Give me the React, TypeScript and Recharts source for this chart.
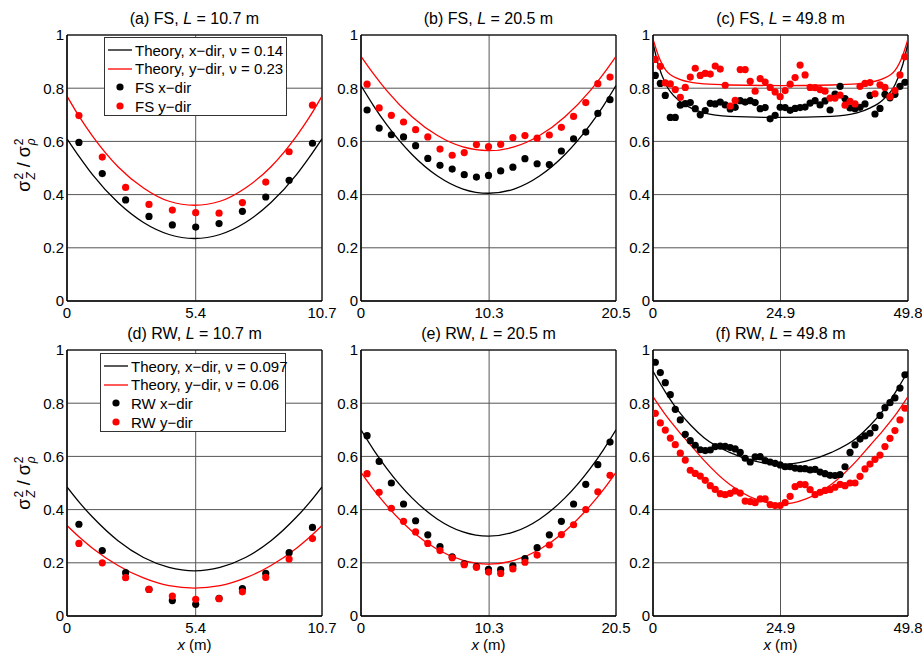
import React from 'react';
import {
  ComposedChart,
  Line,
  Scatter,
  XAxis,
  YAxis,
  CartesianGrid,
  ReferenceArea,
} from 'recharts';

const FONT = '"Liberation Sans", Arial, Helvetica, sans-serif';
const RED = '#ff0000';

// station positions (m)
const xA = [0.5, 1.48, 2.46, 3.44, 4.42, 5.4, 6.38, 7.36, 8.34, 9.32, 10.3];
const xB = [0.49, 1.46, 2.44, 3.42, 4.39, 5.37, 6.35, 7.33, 8.3, 9.28, 10.25, 11.23, 12.21, 13.18, 14.16, 15.14, 16.11, 17.09, 18.07, 19.04, 20.02];
const xC = [
  0.45, 1.43, 2.4, 3.38, 4.35, 5.33, 6.3, 7.28, 8.25, 9.23, 10.2, 11.18, 12.15, 13.13, 14.1, 15.08, 16.05,
  17.03, 18.0, 18.98, 19.95, 20.93, 21.9, 22.88, 23.85, 24.83, 25.8, 26.78, 27.75, 28.73, 29.7, 30.68, 31.65,
  32.63, 33.6, 34.58, 35.55, 36.53, 37.5, 38.48, 39.45, 40.43, 41.4, 42.38, 43.35, 44.33, 45.3, 46.28, 47.25,
  48.23, 49.2,
];

// theory curve sample positions
const thXA = [0, 0.535, 1.07, 2.14, 3.21, 4.28, 5.35, 6.42, 7.49, 8.56, 9.63, 10.165, 10.7];
const thXB = [0, 1.025, 2.05, 4.1, 6.15, 8.2, 10.25, 12.3, 14.35, 16.4, 18.45, 19.475, 20.5];
const thXC = [0, 1.0, 2.49, 4.98, 7.47, 9.96, 14.94, 24.9, 34.86, 39.84, 42.33, 44.82, 47.31, 48.8, 49.8];
const thXF = [0, 2.49, 4.98, 7.47, 9.96, 14.94, 19.92, 24.9, 29.88, 34.86, 39.84, 42.33, 44.82, 47.31, 49.8];

// theory curves
const thBlackA = [0.61, 0.54, 0.475, 0.37, 0.295, 0.25, 0.235, 0.25, 0.295, 0.37, 0.475, 0.54, 0.61];
const thRedA = [0.77, 0.69, 0.62, 0.505, 0.425, 0.375, 0.36, 0.375, 0.425, 0.505, 0.62, 0.69, 0.77];
const thBlackB = [0.81, 0.733, 0.664, 0.551, 0.47, 0.421, 0.405, 0.421, 0.47, 0.551, 0.664, 0.733, 0.81];
const thRedB = [0.92, 0.853, 0.792, 0.693, 0.622, 0.579, 0.565, 0.579, 0.622, 0.693, 0.792, 0.853, 0.92];
const thBlackC = [0.97, 0.89, 0.815, 0.755, 0.725, 0.707, 0.694, 0.69, 0.694, 0.707, 0.725, 0.755, 0.815, 0.89, 0.97];
const thRedC = [0.985, 0.925, 0.868, 0.835, 0.822, 0.816, 0.812, 0.81, 0.812, 0.816, 0.822, 0.835, 0.868, 0.925, 0.985];
const thBlackD = [0.485, 0.425, 0.372, 0.283, 0.22, 0.183, 0.17, 0.183, 0.22, 0.283, 0.372, 0.425, 0.485];
const thRedD = [0.34, 0.295, 0.255, 0.19, 0.143, 0.114, 0.105, 0.114, 0.143, 0.19, 0.255, 0.295, 0.34];
const thBlackE = [0.7, 0.624, 0.556, 0.444, 0.364, 0.316, 0.3, 0.316, 0.364, 0.444, 0.556, 0.624, 0.7];
const thRedE = [0.54, 0.474, 0.416, 0.319, 0.25, 0.209, 0.195, 0.209, 0.25, 0.319, 0.416, 0.474, 0.54];
const thBlackF = [0.92, 0.84, 0.77, 0.715, 0.67, 0.615, 0.582, 0.57, 0.582, 0.615, 0.67, 0.715, 0.77, 0.84, 0.92];
const thRedF = [0.825, 0.755, 0.695, 0.64, 0.585, 0.495, 0.44, 0.42, 0.44, 0.495, 0.585, 0.64, 0.695, 0.755, 0.825];

// measured points
const fsBlackA = [0.596, 0.479, 0.38, 0.318, 0.286, 0.278, 0.291, 0.337, 0.391, 0.454, 0.593];
const fsRedA = [0.697, 0.541, 0.427, 0.363, 0.342, 0.332, 0.33, 0.37, 0.447, 0.561, 0.736];
const fsBlackB = [0.718, 0.65, 0.625, 0.617, 0.584, 0.536, 0.51, 0.496, 0.475, 0.466, 0.472, 0.489, 0.503, 0.535, 0.516, 0.513, 0.564, 0.61, 0.635, 0.705, 0.757];
const fsRedB = [0.815, 0.726, 0.698, 0.673, 0.644, 0.617, 0.571, 0.548, 0.558, 0.588, 0.58, 0.589, 0.614, 0.622, 0.612, 0.624, 0.653, 0.694, 0.746, 0.817, 0.842];
const fsBlackC = [
  0.848, 0.818, 0.773, 0.69, 0.69, 0.736, 0.742, 0.746, 0.723, 0.7, 0.716, 0.743, 0.741, 0.748, 0.737, 0.722, 0.728,
  0.753, 0.748, 0.753, 0.746, 0.723, 0.727, 0.685, 0.698, 0.728, 0.727, 0.717, 0.724, 0.727, 0.729, 0.744, 0.753,
  0.737, 0.752, 0.718, 0.778, 0.807, 0.761, 0.726, 0.723, 0.728, 0.741, 0.773, 0.703, 0.724, 0.777, 0.764, 0.777,
  0.807, 0.822,
];
const fsRedC = [
  0.908, 0.882, 0.82, 0.816, 0.795, 0.766, 0.803, 0.842, 0.875, 0.848, 0.856, 0.853, 0.883, 0.872, 0.811, 0.733, 0.754,
  0.87, 0.87, 0.826, 0.789, 0.836, 0.823, 0.803, 0.786, 0.768, 0.791, 0.815, 0.84, 0.887, 0.85, 0.803, 0.802,
  0.795, 0.789, 0.763, 0.763, 0.774, 0.736, 0.751, 0.741, 0.807, 0.818, 0.821, 0.779, 0.813, 0.803, 0.768, 0.791,
  0.85, 0.918,
];
const rwBlackD = [0.345, 0.246, 0.163, 0.1, 0.058, 0.044, 0.066, 0.103, 0.16, 0.238, 0.333];
const rwRedD = [0.273, 0.2, 0.144, 0.1, 0.075, 0.063, 0.065, 0.091, 0.145, 0.214, 0.291];
const rwBlackE = [0.678, 0.581, 0.5, 0.421, 0.358, 0.305, 0.261, 0.222, 0.196, 0.186, 0.175, 0.174, 0.189, 0.216, 0.257, 0.305, 0.356, 0.421, 0.495, 0.569, 0.654];
const rwRedE = [0.535, 0.465, 0.405, 0.356, 0.316, 0.273, 0.246, 0.219, 0.193, 0.183, 0.165, 0.16, 0.177, 0.202, 0.229, 0.267, 0.306, 0.343, 0.4, 0.467, 0.529];
const rwBlackF = [
  0.954, 0.915, 0.877, 0.832, 0.777, 0.737, 0.683, 0.659, 0.642, 0.625, 0.622, 0.624, 0.637, 0.639, 0.638, 0.633, 0.628,
  0.615, 0.593, 0.579, 0.598, 0.599, 0.584, 0.579, 0.574, 0.568, 0.561, 0.561, 0.556, 0.554, 0.554, 0.549, 0.551,
  0.541, 0.535, 0.529, 0.528, 0.532, 0.561, 0.615, 0.643, 0.665, 0.677, 0.687, 0.708, 0.754, 0.783, 0.802, 0.82,
  0.857, 0.907,
];
const rwRedF = [
  0.762, 0.726, 0.699, 0.669, 0.644, 0.612, 0.586, 0.548, 0.536, 0.526, 0.51, 0.49, 0.476, 0.46, 0.456, 0.461, 0.47,
  0.462, 0.432, 0.43, 0.426, 0.44, 0.44, 0.419, 0.415, 0.415, 0.426, 0.45, 0.486, 0.495, 0.494, 0.475, 0.456,
  0.465, 0.472, 0.475, 0.484, 0.495, 0.49, 0.5, 0.5, 0.525, 0.553, 0.571, 0.589, 0.605, 0.637, 0.668, 0.697,
  0.737, 0.781,
];

const yTicks = [0, 0.2, 0.4, 0.6, 0.8, 1];
const xTicksA = [0, 5.4, 10.7];
const xTicksB = [0, 10.3, 20.5];
const xTicksC = [0, 24.9, 49.8];

const zip = (xs: number[], ys: number[]) => xs.map((x, i) => ({ x, y: ys[i] }));

const PW = 255;
const PH = 266;
const YW = 45;
const XH = 30;
const MT = 12;
const MR = 22;

interface PanelProps {
  left: number;
  top: number;
  length: number;
  xTicks: number[];
  label: string;
  kind: string;
  thX: number[];
  thBlack: number[];
  thRed: number[];
  ptX: number[];
  ptBlack: number[];
  ptRed: number[];
  xLabel?: boolean;
}

const dotShape = (color: string) => (p: any) => <circle cx={p.cx} cy={p.cy} r={3.6} fill={color} />;

const Panel: React.FC<PanelProps> = (p) => {
  const tickStyle = { fill: '#000', fontSize: 15, fontFamily: FONT };
  return (
    <>
      <div
        style={{
          position: 'absolute',
          left: p.left,
          top: p.top - 25,
          width: PW,
          textAlign: 'center',
          fontSize: 16,
          lineHeight: '18px',
          fontFamily: FONT,
        }}
      >
        {p.label} {p.kind}, <i>L</i> = {p.length} m
      </div>
      <div style={{ position: 'absolute', left: p.left - YW, top: p.top - MT }}>
        <ComposedChart width={YW + PW + MR} height={MT + PH + XH} margin={{ top: MT, right: MR, left: 0, bottom: 0 }}>
          <CartesianGrid stroke="#555" strokeWidth={1} />
          <XAxis
            type="number"
            dataKey="x"
            domain={[0, p.length]}
            ticks={p.xTicks}
            interval={0}
            allowDataOverflow
            height={XH}
            tickLine={false}
            tickSize={0}
            tickMargin={6}
            axisLine={{ stroke: '#000' }}
            tick={tickStyle}
          />
          <YAxis
            type="number"
            dataKey="y"
            domain={[0, 1]}
            ticks={yTicks}
            interval={0}
            allowDataOverflow
            width={YW}
            tickLine={false}
            tickSize={0}
            tickMargin={3}
            axisLine={{ stroke: '#000' }}
            tick={tickStyle}
          />
          <ReferenceArea x1={0} x2={p.length} y1={0} y2={1} fillOpacity={0} stroke="#000" strokeWidth={1} />
          <Line data={zip(p.thX, p.thBlack)} dataKey="y" type="monotone" stroke="#000" strokeWidth={1.3} dot={false} isAnimationActive={false} />
          <Line data={zip(p.thX, p.thRed)} dataKey="y" type="monotone" stroke={RED} strokeWidth={1.3} dot={false} isAnimationActive={false} />
          <Scatter data={zip(p.ptX, p.ptBlack)} dataKey="y" fill="#000" shape={dotShape('#000')} isAnimationActive={false} />
          <Scatter data={zip(p.ptX, p.ptRed)} dataKey="y" fill={RED} shape={dotShape(RED)} isAnimationActive={false} />
        </ComposedChart>
      </div>
      {p.xLabel && (
        <div
          style={{
            position: 'absolute',
            left: p.left,
            top: p.top + PH + 20,
            width: PW,
            textAlign: 'center',
            fontSize: 15,
            lineHeight: '17px',
            fontFamily: FONT,
          }}
        >
          <i>x</i> (m)
        </div>
      )}
    </>
  );
};

const Scripts: React.FC<{ sup: string; sub: string }> = ({ sup, sub }) => (
  <span
    style={{
      display: 'inline-flex',
      flexDirection: 'column',
      fontSize: 12,
      lineHeight: '12px',
      verticalAlign: 'middle',
      marginLeft: 1,
    }}
  >
    <span>{sup}</span>
    <span style={{ fontStyle: 'italic' }}>{sub}</span>
  </span>
);

const YLabel: React.FC<{ cy: number }> = ({ cy }) => (
  <div
    style={{
      position: 'absolute',
      left: 25,
      top: cy,
      transform: 'translate(-50%, -50%) rotate(-90deg)',
      whiteSpace: 'nowrap',
      fontFamily: FONT,
      fontSize: 18,
      lineHeight: '24px',
    }}
  >
    σ<Scripts sup="2" sub="Z" /> / σ<Scripts sup="2" sub="ρ" />
  </div>
);

const LegendBox: React.FC<{ left: number; top: number; width: number; items: { text: string; color: string; line: boolean }[] }> = ({
  left,
  top,
  width,
  items,
}) => (
  <div
    style={{
      position: 'absolute',
      left,
      top,
      width,
      height: 79,
      boxSizing: 'border-box',
      border: '1px solid #333',
      background: '#fff',
      fontFamily: FONT,
      fontSize: 15,
      paddingTop: 3,
    }}
  >
    {items.map((it) => (
      <div key={it.text} style={{ display: 'flex', alignItems: 'center', height: 18.6, whiteSpace: 'nowrap' }}>
        <svg width={30} height={18} style={{ flex: 'none' }}>
          {it.line ? (
            <line x1={3} x2={27} y1={9} y2={9} stroke={it.color} strokeWidth={1.3} />
          ) : (
            <circle cx={15} cy={9} r={3.6} fill={it.color} />
          )}
        </svg>
        <span>{it.text}</span>
      </div>
    ))}
  </div>
);

export default function App() {
  return (
    <div style={{ position: 'absolute', left: 0, top: 0, width: 922, height: 653, background: '#fff', overflow: 'hidden' }}>
      <Panel left={67} top={35} length={10.7} xTicks={xTicksA} label="(a)" kind="FS" thX={thXA} thBlack={thBlackA} thRed={thRedA} ptX={xA} ptBlack={fsBlackA} ptRed={fsRedA} />
      <Panel left={361} top={35} length={20.5} xTicks={xTicksB} label="(b)" kind="FS" thX={thXB} thBlack={thBlackB} thRed={thRedB} ptX={xB} ptBlack={fsBlackB} ptRed={fsRedB} />
      <Panel left={653} top={35} length={49.8} xTicks={xTicksC} label="(c)" kind="FS" thX={thXC} thBlack={thBlackC} thRed={thRedC} ptX={xC} ptBlack={fsBlackC} ptRed={fsRedC} />
      <Panel left={67} top={350} length={10.7} xTicks={xTicksA} label="(d)" kind="RW" thX={thXA} thBlack={thBlackD} thRed={thRedD} ptX={xA} ptBlack={rwBlackD} ptRed={rwRedD} xLabel />
      <Panel left={361} top={350} length={20.5} xTicks={xTicksB} label="(e)" kind="RW" thX={thXB} thBlack={thBlackE} thRed={thRedE} ptX={xB} ptBlack={rwBlackE} ptRed={rwRedE} xLabel />
      <Panel left={653} top={350} length={49.8} xTicks={xTicksC} label="(f)" kind="RW" thX={thXF} thBlack={thBlackF} thRed={thRedF} ptX={xC} ptBlack={rwBlackF} ptRed={rwRedF} xLabel />
      <YLabel cy={165} />
      <YLabel cy={483} />
      <LegendBox
        left={104}
        top={37}
        width={183}
        items={[
          { text: 'Theory, x−dir, ν = 0.14', color: '#000', line: true },
          { text: 'Theory, y−dir, ν = 0.23', color: RED, line: true },
          { text: 'FS x−dir', color: '#000', line: false },
          { text: 'FS y−dir', color: RED, line: false },
        ]}
      />
      <LegendBox
        left={100}
        top={353}
        width={186}
        items={[
          { text: 'Theory, x−dir, ν = 0.097', color: '#000', line: true },
          { text: 'Theory, y−dir, ν = 0.06', color: RED, line: true },
          { text: 'RW x−dir', color: '#000', line: false },
          { text: 'RW y−dir', color: RED, line: false },
        ]}
      />
    </div>
  );
}
